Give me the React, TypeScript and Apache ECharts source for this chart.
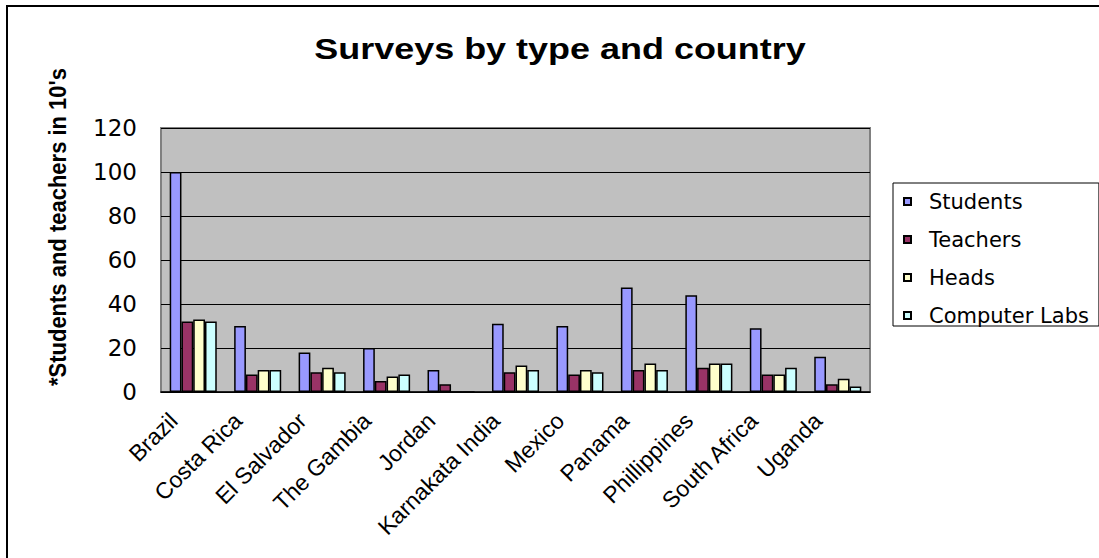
import React, { useEffect, useRef } from "react";
import * as echarts from "echarts";

const categories = [
  "Brazil",
  "Costa Rica",
  "El Salvador",
  "The Gambia",
  "Jordan",
  "Karnakata India",
  "Mexico",
  "Panama",
  "Phillippines",
  "South Africa",
  "Uganda",
];
const students = [100, 30, 18, 20, 10, 31, 30, 47.5, 44, 29, 16];
const teachers = [32, 8, 9, 5, 3.5, 9, 8, 10, 11, 8, 3.5];
const heads = [33, 10, 11, 7, 0, 12, 10, 13, 13, 8, 6];
const computerLabs = [32, 10, 9, 8, 0, 10, 9, 10, 13, 11, 2.5];
const yTicks = { min: 0, max: 120, interval: 20 };

const titleText = "Surveys by type and country";
const yAxisTitle = "*Students and teachers in 10's";

export default function App() {
  const ref = useRef<HTMLDivElement>(null);
  useEffect(() => {
    document.body.style.margin = "0";
    if (!ref.current) return;
    const chart = echarts.init(ref.current, null, { renderer: "svg" });
    const font = "Liberation Sans, Arial, sans-serif";
    const wide = "DejaVu Sans, Liberation Sans, sans-serif";
    const mk = (name: string, data: number[], color: string) => ({
      name,
      type: "bar",
      data,
      barGap: "0%",
      barCategoryGap: "27%",
      itemStyle: { color, borderColor: "#000", borderWidth: 1.5 },
    });
    chart.setOption({
      animation: false,
      backgroundColor: "#fff",
      textStyle: { fontFamily: font },
      graphic: [
        {
          type: "rect",
          shape: { x: 7, y: 6, width: 1200, height: 700 },
          style: { fill: "none", stroke: "#000", lineWidth: 2 },
          silent: true,
        },
        {
          type: "text",
          x: 560,
          y: 49,
          scaleX: 1.24,
          style: {
            text: titleText,
            fontFamily: font,
            fontSize: 29,
            fontWeight: "bold",
            fill: "#000",
            align: "center",
            verticalAlign: "middle",
          },
        },
        {
          type: "text",
          x: 58,
          y: 227,
          rotation: Math.PI / 2,
          scaleY: 1.12,
          style: {
            text: yAxisTitle,
            fontFamily: font,
            fontSize: 22,
            fontWeight: "bold",
            fill: "#000",
            align: "center",
            verticalAlign: "middle",
          },
        },
      ],
      legend: {
        orient: "vertical",
        left: 893,
        top: 183,
        padding: [8, 10, 0, 10],
        itemGap: 17,
        itemWidth: 7,
        itemHeight: 7,
        icon: "rect",
        backgroundColor: "#fff",
        borderColor: "#000",
        borderWidth: 1,
        borderRadius: 0,
        textStyle: {
          fontFamily: wide,
          fontSize: 21,
          lineHeight: 21,
          color: "#000",
          padding: [0, 0, 0, 13],
        },
        data: ["Students", "Teachers", "Heads", "Computer Labs"],
      },
      grid: {
        left: 161,
        right: 229,
        top: 128,
        bottom: 166,
        show: true,
        backgroundColor: "#C0C0C0",
        borderColor: "#808080",
        borderWidth: 2,
      },
      xAxis: {
        type: "category",
        data: categories,
        axisLine: { show: true, lineStyle: { color: "#000", width: 1.5 } },
        axisTick: { show: false },
        axisLabel: {
          rotate: 45,
          interval: 0,
          margin: 5,
          padding: [0, 28, 0, 0],
          fontFamily: font,
          fontSize: 23,
          color: "#000",
        },
      },
      yAxis: {
        type: "value",
        min: yTicks.min,
        max: yTicks.max,
        interval: yTicks.interval,
        axisLine: { show: false },
        axisTick: { show: false },
        splitLine: { show: true, lineStyle: { color: "#000", width: 1 } },
        axisLabel: { margin: 24, fontFamily: wide, fontSize: 23, color: "#000" },
      },
      series: [
        mk("Students", students, "#9999FF"),
        mk("Teachers", teachers, "#993366"),
        mk("Heads", heads, "#FFFFCC"),
        mk("Computer Labs", computerLabs, "#CCFFFF"),
      ],
    });
    return () => chart.dispose();
  }, []);
  return <div ref={ref} style={{ width: 1099, height: 558 }} />;
}
